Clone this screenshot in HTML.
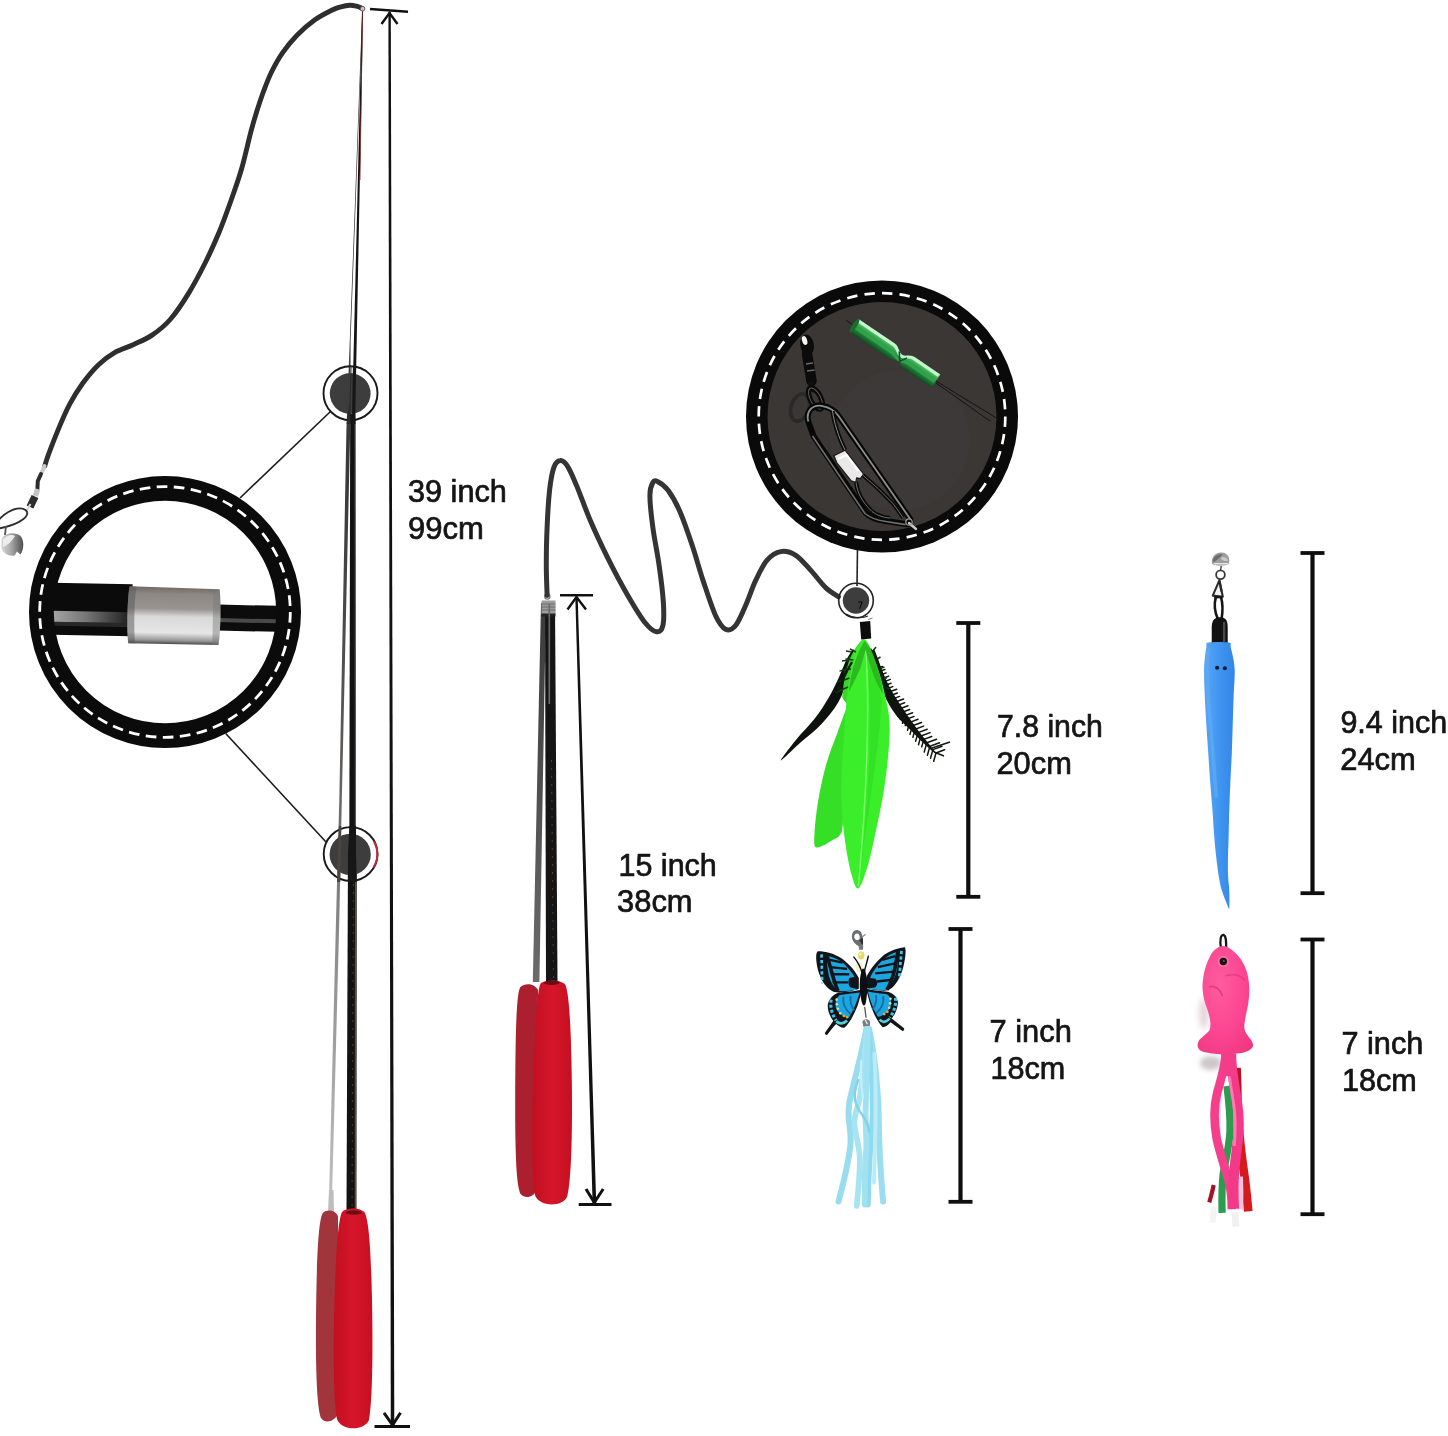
<!DOCTYPE html>
<html><head><meta charset="utf-8"><title>Cat wand size chart</title>
<style>
html,body{margin:0;padding:0;background:#fff;overflow:hidden}
svg{display:block}
text{font-family:"Liberation Sans",sans-serif;fill:#141414;font-size:30.5px;stroke:#141414;stroke-width:.7px;paint-order:stroke;opacity:.995}
</style></head><body>
<svg width="1448" height="1436" viewBox="0 0 1448 1436">
<defs>
<linearGradient id="hRed" x1="0" x2="1" y1="0" y2="0"><stop offset="0" stop-color="#c20f20"/><stop offset=".5" stop-color="#d6162a"/><stop offset="1" stop-color="#c60f22"/></linearGradient>
<linearGradient id="silver" x1="0" x2="0" y1="0" y2="1"><stop offset="0" stop-color="#8a8a8a"/><stop offset=".35" stop-color="#a9a9a9"/><stop offset=".6" stop-color="#c4c4c4"/><stop offset=".85" stop-color="#a0a0a0"/><stop offset="1" stop-color="#6a6a6a"/></linearGradient>
<linearGradient id="blackrod" x1="0" x2="0" y1="0" y2="1"><stop offset="0" stop-color="#0a0a0a"/><stop offset=".55" stop-color="#141414"/><stop offset=".8" stop-color="#7a7a7a"/><stop offset="1" stop-color="#1a1a1a"/></linearGradient>
<linearGradient id="blueW" x1="0" x2="1" y1="0" y2="0"><stop offset="0" stop-color="#58a7f6"/><stop offset=".5" stop-color="#4095f0"/><stop offset="1" stop-color="#3186e8"/></linearGradient>
<linearGradient id="greenT" x1="0" x2="0" y1="0" y2="1"><stop offset="0" stop-color="#9fe8b0"/><stop offset=".3" stop-color="#3fae55"/><stop offset=".7" stop-color="#1f7a35"/><stop offset="1" stop-color="#0f4a20"/></linearGradient>
<radialGradient id="pinkG" cx=".4" cy=".35" r=".8"><stop offset="0" stop-color="#ff5c9e"/><stop offset=".6" stop-color="#fb4490"/><stop offset="1" stop-color="#ee377f"/></radialGradient>
<linearGradient id="shadG" gradientUnits="userSpaceOnUse" x1="0" y1="0" x2="0" y2="1210"><stop offset="0" stop-color="#3a3a3a"/><stop offset=".4" stop-color="#3a3a3a"/><stop offset=".62" stop-color="#5e5a58"/><stop offset=".78" stop-color="#8c8c8c"/><stop offset="1" stop-color="#c2c2c2"/></linearGradient>
<linearGradient id="silver2" x1="0" x2="0" y1="0" y2="1"><stop offset="0" stop-color="#6f6a66"/><stop offset=".12" stop-color="#8d8783"/><stop offset=".38" stop-color="#989491"/><stop offset=".52" stop-color="#d9d9d9"/><stop offset=".8" stop-color="#e6e6e6"/><stop offset=".93" stop-color="#9a9a9a"/><stop offset="1" stop-color="#4a4a4a"/></linearGradient>
<linearGradient id="rodHL" x1="0" x2="1" y1="0" y2="0"><stop offset="0" stop-color="#b5b5b5"/><stop offset=".5" stop-color="#777"/><stop offset="1" stop-color="#1a1a1a"/></linearGradient>
<filter id="bl4" x="-80%" y="-80%" width="260%" height="260%"><feGaussianBlur stdDeviation="14"/></filter>
<filter id="bl5" x="-80%" y="-80%" width="260%" height="260%"><feGaussianBlur stdDeviation="20"/></filter>
<filter id="bl1" x="-20%" y="-20%" width="140%" height="140%"><feGaussianBlur stdDeviation="0.7"/></filter>
<linearGradient id="shadR" gradientUnits="userSpaceOnUse" x1="0" y1="600" x2="0" y2="985"><stop offset="0" stop-color="#3a3a3a"/><stop offset=".5" stop-color="#505050"/><stop offset="1" stop-color="#6c6c6c"/></linearGradient>
<linearGradient id="bellG" x1="0" x2="1" y1="0" y2="0"><stop offset="0" stop-color="#d8d8d8"/><stop offset=".45" stop-color="#a6a6a6"/><stop offset="1" stop-color="#4e4e4e"/></linearGradient>
</defs>
<rect width="1448" height="1436" fill="#fff"/>
<!-- ===== long rod ===== -->
<g id="longrod">
  <!-- shadow rod -->
  <path d="M362.2 10 L349.8 340 L346.4 430 L339.3 800 L336 920 L328.8 1206 L331.8 1206 L339.3 920 L341.8 800 L350.2 430 L350.6 340 L362.8 10Z" fill="url(#shadG)"/>
  <!-- shadow handle -->
  <path d="M329 1190 L333.5 1190 L334 1214 L328 1214Z" fill="#bdbdbd"/>
  <path d="M323 1213 C318.5 1218 316.5 1260 316 1320 C315.5 1370 317 1408 321 1418 C325 1424 334 1422 338 1414 L338 1216 C335 1210 327 1209 323 1213Z" fill="#a2343c"/>
  <!-- rod body: tapered polygon -->
  <path d="M362 10 L363.1 10 L355.3 414 L352.1 414Z" fill="#141414"/>
  <path d="M350.2 414 L355.4 414 L356 853 L349.3 853Z" fill="#121212"/>
  <path d="M348 853 L356.7 853 L356.3 1212 L346.5 1212Z" fill="#121212"/>
  <path d="M354.6 420 L355.5 420 L356 853 L354.8 853Z" fill="#5a5a5a"/>
  <path d="M354.9 853 L356.7 853 L356.3 1212 L354.7 1212Z" fill="#55504a"/>
  <path d="M362.3 10 L363 10 L360.4 180 L359.6 180 Z" fill="#8a2a24"/>
  <path d="M353.5 860 L352 1208" stroke="#7a4a22" stroke-width="1" stroke-dasharray="2 6" opacity=".7" fill="none"/>
  <!-- handle -->
  <path d="M343 1211 C338.5 1214 336 1250 334.5 1300 C333 1350 333.5 1400 337 1419 C341 1431 364 1431.5 369 1420 C372.5 1402 373 1350 372 1300 C371 1255 369.5 1224 365 1213 C361 1207.5 348 1207.5 343 1211Z" fill="url(#hRed)"/>
  <ellipse cx="353.5" cy="1212.5" rx="8" ry="2.2" fill="#6a0d14"/>
  <!-- cord -->
  <path d="M362.3 8.4 C361.3 8.0 358.6 6.7 356.5 6.2 C354.4 5.7 352.4 5.2 349.8 5.3 C347.2 5.4 343.9 6.0 341.0 6.8 C338.1 7.6 336.6 7.8 332.2 10.0 C327.8 12.2 320.5 15.8 314.6 20.0 C308.7 24.2 302.4 29.7 297.0 35.2 C291.6 40.7 286.8 46.7 282.5 52.8 C278.2 58.9 274.7 65.5 271.5 72.0 C268.3 78.5 265.8 85.3 263.3 92.0 C260.8 98.7 258.7 105.4 256.6 112.0 C254.5 118.6 253.4 122.2 250.9 131.7 C248.4 141.2 244.9 157.3 241.6 168.8 C238.3 180.3 234.8 189.9 231.0 200.5 C227.2 211.1 223.5 221.7 219.1 232.3 C214.7 242.9 209.7 253.9 204.6 264.0 C199.5 274.1 194.4 283.9 188.7 293.1 C183.0 302.4 176.4 312.4 170.2 319.5 C164.0 326.6 157.9 331.2 151.7 335.4 C145.5 339.6 139.4 341.8 133.2 344.7 C127.0 347.6 120.3 349.3 114.6 352.6 C108.9 355.9 104.1 359.4 98.8 364.5 C93.5 369.6 87.8 376.4 82.9 383.0 C78.1 389.6 73.9 396.3 69.7 404.2 C65.5 412.1 61.3 422.2 57.8 430.6 C54.3 439.0 50.7 448.5 48.5 454.4 C46.3 460.3 45.4 464.1 44.8 466.0" fill="none" stroke="#2e2e2e" stroke-width="4.9" stroke-linecap="round"/>
  <circle cx="362.6" cy="8.8" r="2.3" fill="#c4c4c4" stroke="#555" stroke-width=".8"/>
  <!-- swivel clasp -->
  <path d="M44.5 466 L41.5 473" stroke="#c9c9c9" stroke-width="4" stroke-linecap="round"/>
  <path d="M41 474 L37.8 481 L37.4 489" stroke="#2b2b2b" stroke-width="4" fill="none" stroke-linecap="round"/>
  <path d="M37.5 489 L35.5 496" stroke="#c4c4c4" stroke-width="5.5" stroke-linecap="butt"/>
  <path d="M35 496.5 L30 507" stroke="#2c2c2c" stroke-width="7.5" stroke-linecap="butt"/>
  <path d="M30.5 504 L26.5 511" stroke="#d8d8d8" stroke-width="2" />
  <path d="M27.3 512.5 C24.5 506 12 506.5 -1 519.5 M27.3 512.5 C28 519 14 525.5 -1 528.5" fill="none" stroke="#2c2c2c" stroke-width="1.9"/>
  <path d="M6 526 L5 535" stroke="#555" stroke-width="1.8"/>
  <path d="M1.5 540 C3 532.5 15 531.5 20.5 536 C24.5 540 24 550 20.5 554.5 L17 551.5 L14.5 555.5 C9 556.5 3 553.5 1.5 548Z" fill="url(#bellG)"/>
  <path d="M3 540 C6 535 12 534 15 536 C12 541 8 545 3 547Z" fill="#ececec"/>
</g>

<!-- ===== big ring magnifier ===== -->
<g id="bigring">
  <line x1="330.5" y1="411.5" x2="240" y2="498" stroke="#1c1c1c" stroke-width="1.6"/>
  <line x1="225.7" y1="733.5" x2="325.8" y2="841.7" stroke="#1c1c1c" stroke-width="1.6"/>
  <!-- rod inside -->
  <clipPath id="ringclip"><circle cx="165" cy="612" r="113"/></clipPath>
  <g clip-path="url(#ringclip)">
   <g transform="rotate(1.2 165 612)">
    <rect x="40" y="585" width="92" height="52" fill="#0b0b0b"/>
    <rect x="40" y="613" width="92" height="11" fill="url(#rodHL)"/>
    <rect x="40" y="624" width="92" height="4" fill="#3a3a3a" opacity=".6"/>
    <rect x="218" y="603.5" width="70" height="26" fill="#0c0c0c"/>
    <rect x="218" y="617" width="70" height="4" fill="#4a4a4a"/>
    <path d="M129 587 C127 600 127 632 129 644 L219 644 C221 632 221 600 219 588 Z" fill="url(#silver2)"/>
    <path d="M129 587 C127 600 127 632 129 644 L136 644 C134 632 134 600 136 587Z" fill="#555" opacity=".5"/>
    <path d="M213 588 L219 588 C221 600 221 632 219 644 L213 644Z" fill="#777" opacity=".45"/>
   </g>
  </g>
  <circle cx="165" cy="612" r="123.6" fill="none" stroke="#0b0b0b" stroke-width="24.8"/>
  <circle cx="165" cy="612" r="125.3" fill="none" stroke="#fff" stroke-width="2.8" stroke-dasharray="10.7 6.415"/>
  <!-- small circles -->
  <circle cx="350.2" cy="393.5" r="20.4" fill="#3e3e3e" filter="url(#bl1)"/>
  <circle cx="350.5" cy="393.2" r="27" fill="none" stroke="#1a1a1a" stroke-width="1.9"/>
  <circle cx="350.2" cy="854.4" r="20.6" fill="#3e3e3e" filter="url(#bl1)"/>
  <circle cx="350.6" cy="854" r="26.9" fill="none" stroke="#1a1a1a" stroke-width="1.9"/>
  <path d="M374.2 841.5 A26.9 26.9 0 0 1 373.6 867.5" fill="none" stroke="#c8283a" stroke-width="1.9"/>
  <!-- rod over small circles -->
  <path d="M352.9 366 L356.1 366 L355.3 414 L355.4 424 L350.2 424 L350.2 414 L352.1 414Z" fill="#161616"/>
  <path d="M350.7 366 L351.6 366 L350.6 400 L350.2 424 L346.6 424 L349.6 400Z" fill="#2a2a2a"/>
  <path d="M349.4 826 L356 826 L356 853 L356.7 882 L347.9 882 L348 853Z" fill="#161616"/>
  <path d="M338.8 826 L341.3 826 L340.3 882 L337 882Z" fill="#4a4644"/>
</g>
<!-- ===== 39 inch dimension ===== -->
<g id="dim39" stroke="#111" fill="none">
  <path d="M388.4 12 L390.8 12 L394.3 1425 L390.8 1425Z" fill="#111" stroke="none"/>
  <line x1="370" y1="9" x2="408" y2="11.8" stroke-width="2.4"/>
  <polyline points="381.5,24 389.5,13 397.5,24" stroke-width="2.4"/>
  <line x1="374.5" y1="1426.5" x2="410" y2="1426.5" stroke-width="3"/>
  <polyline points="384,1412.8 392.6,1425 400.5,1412.8" stroke-width="3"/>
</g>
<text x="408" y="502" textLength="98.8" lengthAdjust="spacingAndGlyphs">39 inch</text>
<text x="408" y="538.5" textLength="75.8" lengthAdjust="spacingAndGlyphs">99cm</text>

<!-- ===== short rod ===== -->
<g id="shortrod">
  <!-- shadow rod + shadow handle -->
  <path d="M541 603 L546 603 L539.4 982 L532.8 982 Z" fill="url(#shadR)"/>
  <path d="M520.5 987 C516.5 991 515.5 1030 515.2 1090 C515 1150 516 1185 520.5 1194 C525 1199 533 1198 537 1190 L538 990 C534 983 525 983 520.5 987Z" fill="#ab1f2e"/>
  <!-- rod -->
  <path d="M545 603 L555 603 L557.5 982 L546 982 Z" fill="#151515"/>
  <path d="M551.5 760 L553.5 980" stroke="#7a4a22" stroke-width="1" stroke-dasharray="2 6" opacity=".7" fill="none"/>
  <rect x="541.5" y="600.5" width="14" height="14" fill="#9c9c9c"/><path d="M541.5 604 h14 M541.5 607 h14 M541.5 610 h14" stroke="#6a6a6a" stroke-width="1"/>
  <rect x="541.5" y="613.5" width="14" height="3" fill="#222"/>
  <rect x="548.5" y="604" width="1.6" height="100" fill="#6a6a6a"/>
  <circle cx="547.3" cy="596.5" r="2.6" fill="#fff" stroke="#777" stroke-width="1.3"/>
  <!-- handle -->
  <path d="M541 983 C537.5 986 535.5 1020 533.5 1075 C532 1130 531.5 1175 535 1195 C539 1207 562 1207.5 567 1197 C571.5 1180 572.5 1130 571.8 1080 C571 1030 569.5 996 565.5 985 C561.5 979.5 546 979.5 541 983Z" fill="url(#hRed)"/>
  <ellipse cx="551.7" cy="982.8" rx="8" ry="2.1" fill="#6a0d14"/>
  <!-- wavy cord -->
  <path d="M547.1 595.4 C547.0 590.4 546.3 576.6 546.3 565.4 C546.3 554.1 546.5 540.3 547.1 527.7 C547.6 515.2 548.5 500.2 549.6 490.1 C550.7 480.1 552.1 472.5 553.8 467.6 C555.6 462.6 557.8 460.8 560.1 460.6 C562.4 460.3 564.9 462.2 567.6 466.3 C570.3 470.4 572.6 476.1 576.4 485.1 C580.2 494.1 585.0 508.1 590.2 520.2 C595.4 532.3 601.5 545.3 607.7 557.8 C614.0 570.4 621.5 584.6 627.8 595.4 C634.1 606.3 640.5 617.0 645.4 623.0 C650.2 629.1 653.7 631.4 656.6 631.8 C659.6 632.2 661.8 630.3 662.9 625.5 C664.0 620.7 664.0 613.0 663.4 603.0 C662.8 592.9 660.9 577.9 659.1 565.4 C657.4 552.8 654.4 539.4 652.9 527.7 C651.3 516.0 649.9 502.7 649.9 495.2 C649.9 487.6 651.6 484.9 652.9 482.6 C654.1 480.3 654.9 480.1 657.4 481.4 C659.9 482.6 664.1 484.9 667.9 490.1 C671.8 495.4 676.3 503.1 680.4 512.7 C684.6 522.3 689.2 536.5 693.0 547.8 C696.7 559.1 699.3 569.1 703.0 580.4 C706.8 591.7 711.8 607.3 715.5 615.5 C719.3 623.6 722.2 627.6 725.6 629.3 C728.9 630.9 732.3 629.5 735.6 625.5 C738.9 621.5 742.3 613.0 745.6 605.5 C749.0 597.9 752.1 587.9 755.7 580.4 C759.2 572.9 762.8 565.1 766.9 560.3 C771.1 555.5 775.9 552.4 780.7 551.6 C785.5 550.7 790.8 552.2 795.8 555.3 C800.8 558.5 805.8 564.9 810.8 570.4 C815.8 575.8 821.3 583.5 825.9 587.9 C830.5 592.3 836.3 595.2 838.4 596.7" fill="none" stroke="#343434" stroke-width="5" stroke-linecap="round"/>
</g>
<!-- ===== 15 inch dimension ===== -->
<g id="dim15" stroke="#111" fill="none" stroke-width="2.4">
  <path d="M575.3 597 L577.7 597 L596.2 1203 L592.6 1203Z" fill="#111" stroke="none"/>
  <line x1="560" y1="595.3" x2="593" y2="595.3"/>
  <polyline points="567.5,609.5 576.5,597 586,609.5"/>
  <line x1="578.7" y1="1204.4" x2="611.5" y2="1204.4" stroke-width="3"/>
  <polyline points="586,1189 594.3,1202.5 603.2,1189" stroke-width="3"/>
</g>
<text x="618.5" y="875.5" textLength="98.3" lengthAdjust="spacingAndGlyphs">15 inch</text>
<text x="617.1" y="911.8" textLength="75.5" lengthAdjust="spacingAndGlyphs">38cm</text>

<!-- ===== dark magnifier circle ===== -->
<g id="darkcircle">
  <line x1="857.5" y1="548" x2="857" y2="586" stroke="#222" stroke-width="1.6"/>
  <circle cx="882" cy="416.5" r="136" fill="#0a0a0a"/>
  <circle cx="882" cy="416.5" r="114.5" fill="#3a3735"/>
  <circle cx="900" cy="440" r="70" fill="#403d3b" opacity=".55"/>
  <circle cx="882" cy="416.5" r="123.3" fill="none" stroke="#fff" stroke-width="2.7" stroke-dasharray="10.4 7.2"/>
  <!-- thin wires -->
  <path d="M846 320 L858 329 M936 381 L998 419 M936 383 L990 421" stroke="#141414" stroke-width="1" fill="none"/>
  <!-- green tube -->
  <g transform="translate(854,325.5) rotate(34.2)">
    <path d="M0 -8 L44 -8 C50 -8 50 -3 56 -3 C62 -3 62 -8 68 -8 L99 -8 L99 8 L68 8 C62 8 60 5 56 5 C52 5 50 8 44 8 L0 8 Z" fill="url(#greenT)"/>
    <path d="M2 -6.2 L44 -6.2 C50 -6.2 51 -1.2 56 -1.2 C61 -1.2 62 -6.2 68 -6.2 L98 -6.2" stroke="#c8f7d2" stroke-width="3" fill="none" opacity=".95"/>
    <path d="M2 1 L44 1 C50 1 52 3 56 3 C60 3 62 1 68 1 L98 1" stroke="#2fa64a" stroke-width="3" fill="none" opacity=".9"/>
    <ellipse cx="0.5" cy="0" rx="2.4" ry="8" fill="#1d6a30"/>
    <path d="M52 -4 L58 4 L62 -3" stroke="#0e4a22" stroke-width="1.5" fill="none"/>
  </g>
  <!-- dark side ring -->
  <ellipse cx="800" cy="407.5" rx="9" ry="14" transform="rotate(18 800 407.5)" fill="none" stroke="#2b2927" stroke-width="3.6"/>
  <!-- swivel -->
  <ellipse cx="807" cy="345" rx="6.8" ry="10.5" transform="rotate(-10 807 345)" fill="#0b0b0b"/>
  <ellipse cx="804.6" cy="340.5" rx="2.5" ry="4.6" transform="rotate(-18 804.6 340.5)" fill="#f4f4f4"/>
  <path d="M807 354 L809 366 L811.5 381" stroke="#0b0b0b" stroke-width="10.5" stroke-linecap="round" fill="none"/>
  <path d="M806 364 L813 363 M807 371 L814.5 370" stroke="#6b6b6b" stroke-width="1.3"/>
  <path d="M811 384 L813.5 390" stroke="#111" stroke-width="5" stroke-linecap="round"/>
  <ellipse cx="815.5" cy="398.5" rx="5.2" ry="11.5" transform="rotate(-27 815.5 398.5)" fill="none" stroke="#0a0a0a" stroke-width="5.4"/>
  <ellipse cx="815.5" cy="398.5" rx="5.2" ry="11.5" transform="rotate(-27 815.5 398.5)" fill="none" stroke="#5c5c5c" stroke-width="1"/>
  <!-- clip (interlock snap) -->
  <path id="clipo" d="M808.3 421.5 C805.5 411 813 404.5 821.4 405.8 C829.5 407 835 411 838.2 415.5 L910.2 519 C911.5 523 908.5 525 905.6 524 L884.2 520.7 C876 519.5 870 517 865.8 513 L813.7 436.4 Z" fill="none" stroke="#070707" stroke-width="6" stroke-linejoin="round"/>
  <path d="M808.3 421.5 C805.5 411 813 404.5 821.4 405.8 C829.5 407 835 411 838.2 415.5 L910.2 519" fill="none" stroke="#8e8e8e" stroke-width="1.8" stroke-linejoin="round"/>
  <path d="M812.5 436 L865 513.5 C870 517.5 876 520 884.2 521.3 L905.6 524.6" fill="none" stroke="#6e6e6e" stroke-width="1.6" stroke-linejoin="round"/>
  <path d="M832.5 411 C834 422 838 436 845 450" fill="none" stroke="#0a0a0a" stroke-width="4.4"/>
  <path d="M832.5 411 C834 422 838 436 845 450" fill="none" stroke="#9a9a9a" stroke-width=".9"/>
  <path d="M856 482 C857 492 862 502 872 511.5 C878 516 884 517.5 890 518" fill="none" stroke="#0a0a0a" stroke-width="4.2"/>
  <path d="M856 482 C857 492 862 502 872 511.5 C878 516 884 517.5 890 518" fill="none" stroke="#8a8a8a" stroke-width=".8"/>
  <path d="M862.7 475 L878 488.5 L893.4 504 L903 517.5" fill="none" stroke="#0a0a0a" stroke-width="4"/>
  <path d="M862.7 475 L878 488.5 L893.4 504 L903 517.5" fill="none" stroke="#8a8a8a" stroke-width=".8"/>
  <path d="M833.9 455.6 L845.1 450.2 L863.5 474 L860.4 478.6 L856.6 477.8 L855.8 482.4 L851.2 480.9 L836.7 462.5Z" fill="#e9e9e9" stroke="#1b1b1b" stroke-width="1.2" stroke-linejoin="round"/>
  <path d="M838 459 L846.5 455 L858 471" fill="none" stroke="#fff" stroke-width="2"/>
  <path d="M909 523 L916 529" stroke="#c9c9c9" stroke-width="2.4" stroke-linecap="round"/>
  <circle cx="909" cy="522" r="3.2" fill="none" stroke="#9a9a9a" stroke-width="1.2"/>
</g>
<!-- small circle 3 + cord end -->
<g id="sc3">
  <circle cx="856" cy="600.5" r="13.2" fill="#3d3d3d" filter="url(#bl1)"/>
  <circle cx="856" cy="600.5" r="17.3" fill="none" stroke="#222" stroke-width="1.6"/>
  <path d="M858 602 L862 602 L859.5 609" stroke="#0c0c0c" stroke-width="1.1" fill="none"/>
  <path d="M846 614 C852 618 862 619 868 616" stroke="#222" stroke-width="1.2" fill="none"/>
</g>

<!-- ===== feather ===== -->
<g id="feather">
  <path d="M854.2 650.5 C854.4 653.6 851.4 667.8 848.8 676.5 C846.1 685.2 842.6 694.7 838.1 702.6 C833.6 710.4 827.9 717.1 821.5 723.9 C815.2 730.6 807.0 736.7 800.2 742.8 C793.5 748.9 781.6 760.9 780.8 760.5 C780.0 760.1 789.9 747.3 795.5 740.4 C801.1 733.5 808.9 726.2 814.4 719.1 C820.0 712.0 824.5 704.9 828.6 697.8 C832.8 690.7 836.1 683.2 839.3 676.5 C842.5 669.8 845.1 661.9 847.6 657.6 C850.1 653.2 854.0 647.3 854.2 650.5Z" fill="#0d120c"/>
  <path d="M870.8 648.1 C872.2 648.9 876.5 658.4 879.5 664.7 C882.6 671.0 885.3 678.9 889.0 686.0 C892.7 693.1 897.1 699.8 902.0 707.3 C907.0 714.8 912.9 723.3 918.6 731.0 C924.3 738.6 935.2 751.1 936.3 753.4 C937.5 755.8 929.8 748.9 925.7 745.2 C921.5 741.4 916.2 735.7 911.5 731.0 C906.8 726.2 901.6 722.3 897.3 716.8 C892.9 711.2 888.8 704.5 885.5 697.8 C882.1 691.1 879.5 682.8 877.2 676.5 C874.8 670.2 872.3 664.7 871.2 659.9 C870.2 655.2 869.4 647.3 870.8 648.1Z" fill="#0f140e"/>
  <path d="M878.0 668.0 l4.4 -1.6 M878.0 668.0 l-1.1 4.1 M879.6 671.4 l5.3 -1.9 M879.6 671.4 l-1.4 5.0 M881.1 674.8 l5.1 -1.9 M881.1 674.8 l-1.3 4.8 M882.8 678.2 l5.8 -2.1 M882.8 678.2 l-1.5 5.5 M884.4 681.6 l6.0 -2.2 M884.4 681.6 l-1.6 5.7 M886.1 685.0 l4.9 -1.8 M886.1 685.0 l-1.3 4.6 M887.8 688.4 l5.0 -1.8 M887.8 688.4 l-1.3 4.7 M889.6 691.8 l7.1 -2.6 M889.6 691.8 l-1.9 6.7 M891.5 695.2 l5.9 -2.2 M891.5 695.2 l-1.6 5.6 M893.5 698.6 l6.1 -2.2 M893.5 698.6 l-1.6 5.7 M895.5 702.0 l8.1 -3.0 M895.5 702.0 l-2.1 7.6 M897.6 705.4 l7.0 -2.6 M897.6 705.4 l-1.8 6.6 M899.9 708.8 l8.1 -3.0 M899.9 708.8 l-2.1 7.6 M902.2 712.2 l7.4 -2.7 M902.2 712.2 l-1.9 7.0 M904.6 715.6 l8.0 -2.9 M904.6 715.6 l-2.1 7.6 M907.1 719.0 l7.0 -2.6 M907.1 719.0 l-1.8 6.6 M909.7 722.4 l8.3 -3.1 M909.7 722.4 l-2.2 7.9 M912.4 725.8 l9.1 -3.3 M912.4 725.8 l-2.4 8.6 M915.1 729.2 l8.5 -3.1 M915.1 729.2 l-2.2 8.0 M918.0 732.6 l9.2 -3.4 M918.0 732.6 l-2.4 8.7 M920.9 736.0 l9.2 -3.4 M920.9 736.0 l-2.4 8.7 M923.8 739.4 l7.9 -2.9 M923.8 739.4 l-2.1 7.5 M926.8 742.8 l9.8 -3.6 M926.8 742.8 l-2.6 9.3 M929.9 746.2 l9.6 -3.5 M929.9 746.2 l-2.5 9.1 M932.9 749.6 l9.1 -3.3 M932.9 749.6 l-2.4 8.6 M936.0 753.0 l8.6 -3.2 M936.0 753.0 l-2.3 8.2" stroke="#10160f" stroke-width="1.5" fill="none" stroke-linecap="round"/>
  <path d="M932 748 L950 742 M934 752 L944 756" stroke="#10160f" stroke-width="1.5" fill="none"/>
  <path d="M864.3 639.4 C859 642 855 648 851 656 C847 665 844 678 842.2 697 C845 703 849 706 852 704 C853 690 856 674 860 662Z" fill="#38d628"/>
  <path d="M852 652 l-6 -1 M849 660 l-7 1 M846.5 669 l-7 2 M844.5 679 l-7 3 M843 689 l-7 4 M850 656 l-3 6 M847 666 l-3 7" stroke="#143a10" stroke-width="1.3" fill="none"/>
  <!-- left green -->
  <path d="M851.1 697.8 C849.4 699.0 842.3 719.9 838.1 731.0 C834.0 742.0 829.6 752.3 826.3 764.1 C822.9 775.9 820.0 790.1 818.0 802.0 C816.0 813.8 814.7 827.5 814.4 835.1 C814.2 842.7 813.6 846.4 816.3 847.4 C819.1 848.4 826.8 843.7 831.0 841.0 C835.2 838.4 839.6 838.1 841.7 831.6 C843.7 825.0 842.7 814.0 843.3 802.0 C843.9 789.9 844.3 772.4 845.2 759.4 C846.1 746.3 847.8 734.1 848.8 723.9 C849.7 713.6 852.9 696.6 851.1 697.8Z" fill="#35df25"/>
  <!-- main green -->
  <path d="M865.3 639.8 C869.3 642.6 874.8 659.0 878.4 669.4 C881.9 679.9 884.7 693.1 886.6 702.6 C888.5 712.0 889.5 716.8 889.7 726.2 C889.9 735.7 888.9 747.9 887.8 759.4 C886.7 770.8 885.1 783.0 883.1 794.9 C881.1 806.7 878.5 818.5 876.0 830.4 C873.4 842.2 870.7 856.2 867.7 865.9 C864.7 875.5 861.0 887.2 858.2 888.4 C855.5 889.5 853.3 880.7 851.1 873.0 C849.0 865.3 846.8 853.3 845.2 842.2 C843.6 831.2 842.3 818.5 841.7 806.7 C841.1 794.9 841.3 783.0 841.7 771.2 C842.1 759.4 843.2 747.1 844.0 735.7 C844.8 724.2 845.4 712.4 846.4 702.6 C847.4 692.7 848.6 684.8 849.9 676.5 C851.3 668.2 852.1 659.0 854.7 652.8 C857.2 646.7 861.4 637.1 865.3 639.8Z" fill="#3bee2a"/>
  <path d="M866 650 C869 700 868 780 858.5 886" stroke="#7dff6a" stroke-width="1.4" fill="none"/>
  <path d="M866 650 C872 700 872 780 858.5 886 C866 820 878 760 882 700 C878 680 872 660 866 650Z" fill="#2fd820" opacity=".55"/>
  <!-- fluffy top -->
  <path d="M864.5 641 C860 648 856 658 853 668 C851 676 849.5 684 849 692 C853 684 857 676 860.5 668 C862.5 662 864 655 865.5 650 C868 658 871 668 874 676 C877 684 880 690 883 694 C882 684 879.5 672 876 662 C873 653 869 645 864.5 641Z" fill="#2aa81e" opacity=".75"/>
  <path d="M856 652 l-6 -3 M853.5 660 l-8 -1 M851 669 l-9 1 M849.5 678 l-8 3 M848 687 l-9 4 M872 652 l4 -5 M875.5 660 l5 -3 M878.5 669 l6 -2 M881 678 l6 0 M883.5 687 l6 2" stroke="#123a0e" stroke-width="1.5" fill="none"/>
  <path d="M852 662 C846 672 842 682 838 690" stroke="#0e1a0c" stroke-width="2.4" fill="none"/>
  <path d="M873 650 C878 662 882 674 886 690" stroke="#0d1d0b" stroke-width="3" fill="none"/>
  <!-- black connector -->
  <path d="M859.8 622 L870.2 621 L871.2 638.5 L861.2 639.5Z" fill="#0c0c0c"/>
  <path d="M868 619.5 L872.5 618" stroke="#888" stroke-width="1.2"/>
</g>
<!-- 7.8 dim -->
<g id="dim78" stroke="#0e0e0e" fill="none">
  <line x1="968.3" y1="623" x2="968.3" y2="897" stroke-width="4.2"/>
  <line x1="956.3" y1="623" x2="980.3" y2="623" stroke-width="3.8"/>
  <line x1="956.3" y1="896.8" x2="980.3" y2="896.8" stroke-width="3.8"/>
</g>
<text x="997" y="737" textLength="105.8" lengthAdjust="spacingAndGlyphs">7.8 inch</text>
<text x="996.5" y="773.8" textLength="75.3" lengthAdjust="spacingAndGlyphs">20cm</text>

<!-- ===== butterfly ===== -->
<g id="butterfly" transform="translate(800,920) scale(0.0905)">
  <!-- clasp -->
  <path fill-rule="evenodd" d="M640 112 C600 105 570 140 574 190 C578 235 615 270 650 290 C665 296 690 296 694 280 C700 250 695 200 688 170 C680 135 665 116 640 112Z M632 150 C610 150 596 170 600 192 C604 212 625 224 645 220 C660 214 662 196 658 178 C654 160 646 150 632 150Z" fill="#6d6f72"/>
  <path d="M655 225 C670 250 685 270 694 282 C700 250 697 215 690 190 C680 205 668 218 655 225Z" fill="#2f3133"/>
  <path d="M690 185 L722 160" stroke="#8a8c8f" stroke-width="12" stroke-linecap="round"/>
  <path d="M648 285 L700 285 L696 330 L652 330Z" fill="#77797c"/>
  <ellipse cx="677" cy="392" rx="36" ry="44" fill="#e6da62"/>
  <ellipse cx="668" cy="378" rx="14" ry="18" fill="#f6f0a8"/>
  <ellipse cx="655" cy="520" rx="40" ry="60" fill="#f4ecc8" opacity=".8"/>
  <!-- wings black -->
  <path d="M650 640 C620 580 560 500 470 430 C380 370 280 345 200 345 C180 350 175 400 182 460 C190 540 220 640 280 720 C320 770 370 800 420 800 C520 800 600 780 650 760Z" fill="#10151a"/>
  <path d="M730 640 C760 570 830 470 930 385 C1020 325 1100 305 1160 300 C1172 330 1168 400 1150 480 C1130 580 1090 680 1020 745 C990 770 960 780 930 782 C850 780 780 765 735 750Z" fill="#10151a"/>
  <path d="M680 770 C600 790 500 795 430 800 C370 820 320 870 308 930 C300 990 325 1060 375 1125 C350 1170 310 1220 285 1250 L300 1262 C330 1230 370 1180 400 1150 C430 1175 460 1195 490 1190 C550 1140 600 1040 635 950 C655 890 670 830 680 790Z" fill="#10151a"/>
  <path d="M735 760 C820 780 900 788 970 792 C1040 815 1085 860 1082 920 C1078 980 1050 1045 1005 1100 C1050 1135 1100 1175 1145 1205 L1132 1220 C1085 1190 1035 1155 1000 1130 C975 1160 945 1185 915 1185 C860 1130 815 1040 780 940 C760 880 745 820 735 780Z" fill="#10151a"/>
  <path d="M385 1120 L292 1252" stroke="#10151a" stroke-width="34" stroke-linecap="round"/>
  <path d="M1000 1100 L1135 1208" stroke="#10151a" stroke-width="34" stroke-linecap="round"/>
  <!-- blue patches upper -->
  <path d="M300 400 C380 405 460 450 520 520 C560 565 590 600 600 630 L545 640 C530 680 530 720 560 745 L640 765 C560 785 480 790 420 785 C370 740 340 690 320 620 C305 550 295 470 300 400Z" fill="#1ea5df"/>
  <path d="M1080 350 C1000 365 930 420 870 490 C820 550 790 600 775 640 L835 650 C860 690 860 720 830 745 L745 755 C820 775 900 780 960 772 C1010 720 1040 660 1060 590 C1078 520 1088 430 1080 350Z" fill="#1ea5df"/>
  <!-- light dashes outer upper -->
  <path d="M238 380 L245 700" stroke="#45c4e8" stroke-width="30" stroke-dasharray="36 26" fill="none"/>
  <path d="M1122 340 L1095 650" stroke="#45c4e8" stroke-width="30" stroke-dasharray="36 26" fill="none"/>
  <!-- black stripes upper -->
  <path d="M330 440 L470 470 M330 520 L520 540 M340 600 L545 600 M360 690 L530 690" stroke="#10151a" stroke-width="26" fill="none"/>
  <path d="M1050 400 L910 440 M1050 480 L860 520 M1040 570 L830 590 M1020 660 L850 680" stroke="#10151a" stroke-width="26" fill="none"/>
  <path d="M300 400 C340 520 360 650 420 785" stroke="#10151a" stroke-width="40" fill="none"/>
  <path d="M1080 350 C1060 480 1040 640 960 772" stroke="#10151a" stroke-width="40" fill="none"/>
  <!-- blue patches lower -->
  <path d="M660 800 C580 810 500 820 440 830 C400 860 380 920 400 980 C430 1040 480 1070 540 1080 C590 1000 630 900 660 800Z" fill="#1ea5df"/>
  <path d="M750 790 C830 805 910 815 960 820 C1000 850 1020 900 1000 960 C970 1020 920 1060 860 1070 C810 990 775 890 750 790Z" fill="#1ea5df"/>
  <path d="M480 850 C470 920 500 990 560 1040 M560 840 C550 900 570 960 600 1000" stroke="#0f6fa8" stroke-width="20" fill="none"/>
  <path d="M920 840 C930 910 900 980 840 1030 M840 830 C850 890 830 950 800 990" stroke="#0f6fa8" stroke-width="20" fill="none"/>
  <!-- light outer lower -->
  <path d="M345 880 C330 950 350 1040 400 1110" stroke="#3ebfe4" stroke-width="34" stroke-dasharray="34 22" fill="none"/>
  <path d="M1055 860 C1065 930 1040 1010 995 1080" stroke="#3ebfe4" stroke-width="34" stroke-dasharray="34 22" fill="none"/>
  <path d="M400 1120 C440 1150 480 1150 520 1110" stroke="#4fd0d8" stroke-width="30" fill="none"/>
  <path d="M990 1090 C950 1130 910 1140 880 1100" stroke="#4fd0d8" stroke-width="30" fill="none"/>
  <!-- yellow dots -->
  <g fill="#e8dc8a"><circle cx="405" cy="880" r="14"/><circle cx="408" cy="930" r="14"/><circle cx="420" cy="980" r="14"/><circle cx="445" cy="1030" r="14"/><circle cx="1000" cy="870" r="14"/><circle cx="995" cy="920" r="14"/><circle cx="985" cy="970" r="14"/></g>
  <g fill="#e5a93a"><circle cx="485" cy="1060" r="15"/><circle cx="520" cy="1075" r="13"/><circle cx="965" cy="1015" r="15"/><circle cx="930" cy="1040" r="15"/></g>
  <!-- body & antennae -->
  <path d="M690 540 C655 620 650 760 680 900 C695 960 720 960 730 900 C755 760 745 620 712 540Z" fill="#0b0e12"/>
  <path d="M690 600 C670 520 630 450 595 410 M705 600 C720 520 745 450 755 400" stroke="#0b0e12" stroke-width="16" fill="none" stroke-linecap="round"/>
  <!-- lower chain + tassel cap -->
  <path d="M715 960 L730 1080" stroke="#555" stroke-width="14"/>
  <path d="M690 1130 C690 1085 770 1085 775 1130 L770 1180 L700 1180Z" fill="#7b7f84"/>
  <path d="M720 1105 L745 1150" stroke="#e8e8e8" stroke-width="14"/>
</g>

<!-- tassel -->
<g id="tassel" transform="translate(810,1010) scale(0.1462)" fill="none" stroke-linecap="round">
  <path d="M385 130 C370 220 330 380 300 500 C275 600 258 660 265 740 C272 820 285 860 275 940 C262 1040 225 1200 195 1310" stroke="#97dcef" stroke-width="41"/>
  <path d="M405 130 C425 230 455 450 465 600 C472 720 470 800 474 900 C480 1050 490 1200 500 1310" stroke="#9bdef0" stroke-width="41"/>
  <path d="M390 130 C380 250 365 450 340 600 C320 700 298 720 305 790 C312 860 335 920 340 1000 C345 1100 330 1220 320 1340" stroke="#a6e4f3" stroke-width="39"/>
  <path d="M400 130 C415 300 432 500 430 700 C428 800 420 860 412 950 C402 1060 398 1200 395 1330" stroke="#8fdaee" stroke-width="41"/>
  <path d="M395 130 C392 300 384 500 380 700 C378 800 390 860 385 950 C378 1060 372 1200 375 1330" stroke="#a0e1f2" stroke-width="41"/>
  <path d="M440 300 C452 500 450 700 445 900 L438 1180" stroke="#b9ecf7" stroke-width="27"/>
  <path d="M330 480 C300 560 290 620 345 700 C380 750 400 780 405 830" stroke="#82d2ea" stroke-width="17"/>
  <path d="M350 350 C345 450 350 520 362 600" stroke="#c4f0f9" stroke-width="15"/>
</g>
<!-- 7 inch dim (butterfly) -->
<g id="dim7a" stroke="#0e0e0e" fill="none">
  <line x1="960.5" y1="929" x2="960.5" y2="1202" stroke-width="4.2"/>
  <line x1="948.5" y1="929" x2="972.5" y2="929" stroke-width="3.8"/>
  <line x1="948.5" y1="1201.8" x2="972.5" y2="1201.8" stroke-width="3.8"/>
</g>
<text x="989.5" y="1042.2" textLength="82.3" lengthAdjust="spacingAndGlyphs">7 inch</text>
<text x="990.5" y="1078.6" textLength="74.8" lengthAdjust="spacingAndGlyphs">18cm</text>

<!-- ===== blue worm ===== -->
<g id="worm" transform="translate(1170,540) scale(0.2576)">
  <!-- bell -->
  <path d="M162 88 C162 60 182 47 200 49 C220 50 232 64 230 86 C228 97 215 99 198 99 C180 99 163 98 162 88Z" fill="#9c9c9c"/>
  <path d="M166 80 C172 60 190 52 204 56 C196 66 184 76 170 86Z" fill="#6c6c6c"/>
  <path d="M196 70 C206 62 220 66 226 80 C216 84 204 82 196 70Z" fill="#c9c9c9"/>
  <path d="M170 92 L226 92" stroke="#e4e4e4" stroke-width="6"/>
  <!-- ring / clasp / loop -->
  <path d="M199 100 L196 118" stroke="#555" stroke-width="6"/>
  <circle cx="196" cy="135" r="17" fill="none" stroke="#3a3a3a" stroke-width="7"/>
  <path d="M192 156 L166 216 L205 220 Z" fill="#f2f2f2" stroke="#2a2a2a" stroke-width="8" stroke-linejoin="round"/>
  <path d="M192 160 L200 200" stroke="#2a2a2a" stroke-width="9"/>
  <path d="M178 222 C170 250 176 285 186 308 M198 222 C206 250 204 285 200 308" stroke="#161616" stroke-width="10" fill="none"/>
  <path d="M172 222 L204 222" stroke="#161616" stroke-width="9"/>
  <!-- cap -->
  <path d="M162 400 L162 338 C162 306 180 300 194 300 C210 300 224 306 224 338 L224 400Z" fill="#121212"/>
  <path d="M210 318 L210 396" stroke="#5a5a5a" stroke-width="9" opacity=".8"/>
  <!-- body -->
  <path d="M150.0 398.0 C135.5 401.2 143.9 400.3 141.0 417.0 C138.1 433.7 133.4 466.3 132.4 498.0 C131.4 529.7 133.6 570.5 135.0 607.0 C136.4 643.5 138.8 680.5 141.0 717.0 C143.2 753.5 145.9 789.5 148.3 826.0 C150.8 862.5 153.0 899.3 155.7 936.0 C158.4 972.7 161.9 1009.5 164.6 1046.0 C167.3 1082.5 169.6 1124.7 172.0 1155.0 C174.4 1185.3 176.2 1203.5 179.0 1228.0 C181.8 1252.5 185.0 1280.0 188.7 1302.0 C192.4 1324.0 194.9 1339.5 201.0 1360.0 C207.1 1380.5 221.0 1413.3 225.5 1425.0 C230.0 1436.7 227.2 1430.0 228.0 1430.0 C228.8 1430.0 230.1 1436.7 230.5 1425.0 C230.9 1413.3 231.1 1380.5 230.2 1360.0 C229.3 1339.5 226.0 1324.0 225.2 1302.0 C224.4 1280.0 224.8 1252.5 225.2 1228.0 C225.6 1203.5 226.7 1185.3 227.5 1155.0 C228.3 1124.7 229.0 1082.5 230.2 1046.0 C231.4 1009.5 232.9 972.7 234.5 936.0 C236.1 899.3 238.5 862.5 240.0 826.0 C241.5 789.5 242.2 753.5 243.4 717.0 C244.6 680.5 245.8 643.5 247.0 607.0 C248.2 570.5 252.6 529.7 250.8 498.0 C249.0 466.3 239.8 433.7 236.0 417.0 C232.2 400.3 242.3 401.2 228.0 398.0 C213.7 394.8 164.5 394.8 150.0 398.0Z" fill="url(#blueW)"/>
  <path d="M150 420 C140 470 142 560 156 700 C165 800 172 900 180 1000" stroke="#5eaaf5" stroke-width="14" fill="none" opacity=".7"/>
  <circle cx="183" cy="496" r="8" fill="#0c1830"/>
  <circle cx="213" cy="498" r="8" fill="#0c1830"/>
</g>
<!-- 9.4 dim -->
<g id="dim94" stroke="#0e0e0e" fill="none">
  <line x1="1312.5" y1="553" x2="1312.5" y2="893.5" stroke-width="4.2"/>
  <line x1="1300.5" y1="553" x2="1324.5" y2="553" stroke-width="3.8"/>
  <line x1="1300.5" y1="893.2" x2="1324.5" y2="893.2" stroke-width="3.8"/>
</g>
<text x="1340.4" y="733" textLength="106.8" lengthAdjust="spacingAndGlyphs">9.4 inch</text>
<text x="1340.2" y="769.7" textLength="75.6" lengthAdjust="spacingAndGlyphs">24cm</text>

<!-- ===== pink fish ===== -->
<g id="fish" transform="translate(1170,920) scale(0.223)">
  <!-- faint shadow -->
  <ellipse cx="152" cy="420" rx="20" ry="70" fill="#b98a9a" opacity=".4" filter="url(#bl4)"/>
  <!-- ribbons -->
  <g transform="scale(4.4843) translate(-1170,-920) translate(1190,1040) scale(0.1394)" fill="none" stroke-linecap="butt">
    <ellipse cx="150" cy="165" rx="80" ry="50" fill="#8a7a80" opacity=".42" filter="url(#bl5)"/>
    <path d="M345 200 C350 300 352 450 352 600" stroke="#b31522" stroke-width="40"/>
    <path d="M352 640 C357 740 374 860 394 1000 C404 1080 412 1160 418 1230" stroke="#d41a1a" stroke-width="62"/>
    <path d="M170 1040 C160 1090 148 1130 138 1165" stroke="#a51224" stroke-width="30"/>
    <path d="M205 420 C197 500 195 580 200 680" stroke="#f6dbe6" stroke-width="44"/>
    <path d="M265 330 C278 430 290 540 287 650 C284 750 252 880 238 960 C228 1050 228 1150 230 1240" stroke="#2e9c50" stroke-width="52"/>
    <path d="M358 980 C362 1060 362 1140 360 1215" stroke="#f6c3de" stroke-width="44"/>
    <path d="M255 110 C250 200 222 280 195 380 C172 470 172 600 192 710 C212 800 250 920 278 1010 C296 1080 300 1150 300 1215" stroke="#f4408c" stroke-width="62"/>
    <path d="M292 110 C300 220 318 330 338 450 C356 560 352 680 336 780 C322 880 312 980 312 1060 C312 1120 314 1170 316 1210" stroke="#f23a88" stroke-width="72"/>
    <path d="M268 130 C278 250 295 350 312 450 C330 560 325 680 318 760" stroke="#ff7cb6" stroke-width="20"/>
    <path d="M224 100 L332 100 L332 260 L228 260Z" fill="#f33d8a" stroke="none"/>
    <path d="M172 1195 L162 1310" stroke="#f4f4f4" stroke-width="44"/>
    <path d="M322 1235 L330 1340" stroke="#f1f1f1" stroke-width="50"/>
  </g>
  <!-- hook -->
  <path d="M229 128 C221 88 229 64 241 67 C252 72 252 96 252 128" fill="none" stroke="#161616" stroke-width="10"/>
  <!-- body -->
  <path d="M242.0 116.3 C257.3 117.8 276.2 132.7 290.1 144.7 C303.9 156.7 315.5 172.4 325.0 188.4 C334.5 204.4 341.8 221.1 346.9 240.8 C351.9 260.5 354.9 284.5 355.6 306.3 C356.3 328.2 354.1 350.0 351.2 371.8 C348.3 393.7 341.0 418.4 338.1 437.4 C335.2 456.3 332.3 472.3 333.7 485.4 C335.2 498.5 341.0 505.8 346.9 516.0 C352.7 526.2 365.1 537.1 368.7 546.6 C372.3 556.0 375.2 564.8 368.7 572.8 C362.1 580.8 350.5 589.5 329.4 594.6 C308.3 599.7 269.7 603.3 242.0 603.3 C214.4 603.3 182.3 599.0 163.4 594.6 C144.5 590.2 134.6 585.1 128.5 577.1 C122.3 569.1 122.6 556.0 126.3 546.6 C129.9 537.1 141.9 529.1 150.3 520.4 C158.7 511.6 171.4 504.3 176.5 494.1 C181.6 484.0 181.6 472.3 180.9 459.2 C180.1 446.1 176.5 431.5 172.1 415.5 C167.8 399.5 159.0 381.3 154.7 363.1 C150.3 344.9 146.7 325.2 145.9 306.3 C145.2 287.4 146.7 269.2 150.3 249.5 C153.9 229.9 159.8 207.3 167.8 188.4 C175.8 169.5 186.0 148.0 198.3 136.0 C210.7 124.0 226.7 114.9 242.0 116.3Z" fill="url(#pinkG)"/>
  <path d="M175 300 C200 290 225 310 235 340" stroke="#d9286f" stroke-width="8" fill="none" opacity=".6"/>
  <path d="M250 250 C290 240 320 250 335 270" stroke="#da2a72" stroke-width="7" fill="none" opacity=".5"/>
  <circle cx="239" cy="186" r="16.5" fill="#1a0a12"/><circle cx="241" cy="184" r="5" fill="#6a5a60"/>
  <circle cx="239" cy="186" r="22" fill="none" stroke="#ff7fb4" stroke-width="6" opacity=".7"/>
</g>
<!-- 7 inch dim (fish) -->
<g id="dim7b" stroke="#0e0e0e" fill="none">
  <line x1="1312.5" y1="939.5" x2="1312.5" y2="1214.5" stroke-width="4.2"/>
  <line x1="1300.5" y1="939.5" x2="1324.5" y2="939.5" stroke-width="3.8"/>
  <line x1="1300.5" y1="1214.2" x2="1324.5" y2="1214.2" stroke-width="3.8"/>
</g>
<text x="1341.5" y="1054.4" textLength="81.8" lengthAdjust="spacingAndGlyphs">7 inch</text>
<text x="1342" y="1090.6" textLength="74.8" lengthAdjust="spacingAndGlyphs">18cm</text>

</svg>
</body></html>
